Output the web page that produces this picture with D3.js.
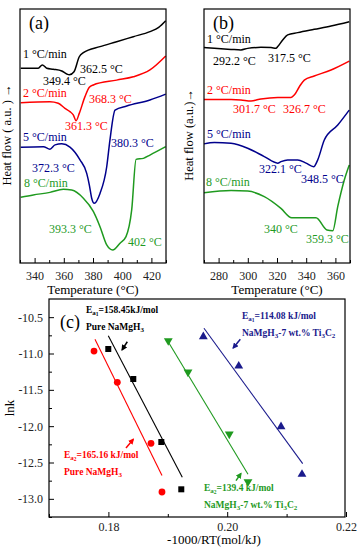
<!DOCTYPE html>
<html>
<head>
<meta charset="utf-8">
<script src="https://cdn.jsdelivr.net/npm/d3@7"></script>
<style>
  body { margin: 0; background: #fff; }
  svg, svg text { font-family: "Liberation Serif", "Times New Roman", Times, "DejaVu Serif", serif !important; }
  .axis text { font-size: 12px; fill: #222; }
  .axis path { display: none; }
  .axis line { stroke: #000; }
</style>
</head>
<body>
<div id="chart"></div>
<script>
// ---- data: DSC curves, [temperature (°C), heat flow (a.u.)]
const rates = ['1 °C/min', '2 °C/min', '5 °C/min', '8 °C/min']
const colors = ['#000000', '#ff0000', '#00008c', '#1f9a1f']
const serif = '"Liberation Serif", "Times New Roman", Times, "DejaVu Serif", serif'

const pureCurves = [
  [[330.5, 7.67], [342.5, 7.67], [345.3, 7.8], [348.3, 7.67], [352.8, 7.63], [358.6, 7.56], [362, 7.44], [363.8, 7.41], [367, 7.53], [370.6, 8.12], [373.4, 8.28], [384.8, 8.52], [396.2, 8.71], [407.6, 8.91], [419, 9.11], [425, 9.28], [429.8, 9.54]],
  [[330.5, 6.31], [350.5, 6.35], [356.2, 6.29], [360.8, 6.09], [364.2, 5.96], [366.5, 5.83], [368.4, 5.6], [370.6, 5.89], [374.5, 6.55], [377.5, 6.92], [380.2, 7.01], [396.2, 7.2], [407.6, 7.33], [419, 7.6], [429.8, 8.15]],
  [[330.5, 4.56], [346, 4.58], [350.5, 4.48], [354, 4.65], [358.6, 4.69], [364.2, 4.56], [371.1, 4.06], [375.7, 3.53], [377.5, 3.07], [379.1, 2.55], [380.9, 2.35], [384.8, 2.74], [389.4, 3.79], [391.6, 4.84], [395.1, 6.02], [403.1, 6.18], [419, 6.42], [429.8, 6.65]],
  [[330.5, 2.59], [339.1, 2.68], [350.5, 2.78], [359.7, 2.9], [365.4, 2.87], [373.4, 2.55], [380.2, 2.03], [384.8, 1.43], [389.4, 0.71], [393.5, 0.51], [398.5, 0.78], [402.6, 1.04], [406.5, 2.09], [409.5, 4.08], [414.5, 4.12], [419, 4.25], [429.8, 4.58]]
]

const dopedCurves = [
  [[270, 8.48], [277.1, 8.45], [288.5, 8.41], [295.3, 8.39], [299.9, 8.45], [309, 8.49], [315.9, 8.48], [319.3, 8.45], [320.5, 8.52], [323.9, 8.78], [327.3, 8.98], [334.2, 9.07], [345.5, 9.2], [357, 9.33], [369.5, 9.5]],
  [[270, 6.44], [288.5, 6.44], [295.3, 6.42], [302.2, 6.38], [309, 6.46], [320.5, 6.52], [329.6, 6.52], [331.8, 6.61], [335.3, 6.94], [338.7, 7.2], [345.5, 7.36], [357, 7.6], [369.5, 7.95]],
  [[270, 4.69], [277.1, 4.74], [288.5, 4.71], [299.9, 4.52], [311.3, 4.19], [320.5, 3.93], [322.7, 3.99], [327.3, 4.06], [334.2, 4.06], [339.9, 3.93], [345.1, 3.79], [347.9, 4.06], [352.4, 4.84], [361.6, 5.43], [369.5, 6.02]],
  [[270, 2.77], [288.5, 2.85], [299.9, 2.83], [311.3, 2.61], [322.7, 2.15], [330.1, 1.78], [346.7, 1.78], [354.2, 1.3], [358.2, 1.27], [361.6, 2.22], [366.1, 3.27], [369.5, 3.86]]
]

// peak labels: [text, x px, baseline px, colour index]
const pureLabels = [
  ['1 °C/min', 23, 58, 0], ['362.5 °C', 80, 73, 0], ['349.4 °C', 43, 85, 0],
  ['2 °C/min', 23, 97, 1], ['368.3 °C', 89, 103, 1], ['361.3 °C', 65, 130, 1],
  ['5 °C/min', 23, 141, 2], ['380.3 °C', 111, 147, 2], ['372.3 °C', 32, 172, 2],
  ['8 °C/min', 24, 187, 3], ['393.3 °C', 49, 233, 3], ['402 °C', 128, 246, 3]
]
const dopedLabels = [
  ['1 °C/min', 207, 43, 0], ['292.2 °C', 213, 65, 0], ['317.5 °C', 268, 62, 0],
  ['2 °C/min', 207, 94, 1], ['301.7 °C', 233, 113, 1], ['326.7 °C', 283, 113, 1],
  ['5 °C/min', 207, 138, 2], ['322.1 °C', 259, 173, 2], ['348.5 °C', 301, 183, 2],
  ['8 °C/min', 206, 186, 3], ['340 °C', 264, 233, 3], ['359.3 °C', 306, 243, 3]
]

// ---- Kissinger plot data
const kisPure1 = [[0.17998, -10.938], [0.18419, -11.351], [0.18891, -12.218], [0.19227, -12.869]]
const kisPure2 = [[0.17758, -10.966], [0.1815, -11.396], [0.18717, -12.236], [0.18902, -12.906]]
const kisDoped2 = [[0.19008, -10.824], [0.1934, -11.255], [0.20035, -12.108], [0.2035, -12.764]]
const kisDoped1 = [[0.19598, -10.769], [0.20194, -11.172], [0.20906, -12.007], [0.21259, -12.662]]

const fitPure1 = [[0.17998, -10.755], [0.19244, -12.703]]
const fitPure2 = [[0.17774, -10.805], [0.18902, -12.68]]
const fitDoped2 = [[0.18981, -10.805], [0.2035, -12.662]]
const fitDoped1 = [[0.19609, -10.653], [0.21271, -12.516]]

const arrows = [
  { from: [0.18318, -10.838], to: [0.1823, -10.95], color: '#000000' },
  { from: [0.18296, -12.30], to: [0.18420, -12.18], color: '#ff0000' },
  { from: [0.20221, -10.805], to: [0.20100, -10.925], color: '#1a1a8c' },
  { from: [0.20148, -12.75], to: [0.20232, -12.65], color: '#1f9a1f' }
]

const svg = d3
  .select('#chart')
  .append('svg')
  .attr('width', 362)
  .attr('height', 550)
  .style('font-family', serif)

svg.append('defs')
  .selectAll('marker')
  .data(arrows)
  .enter()
  .append('marker')
  .attr('id', (d, i) => `arr${i}`)
  .attr('viewBox', '0 0 10 10')
  .attr('refX', 8)
  .attr('refY', 5)
  .attr('markerWidth', 4)
  .attr('markerHeight', 4)
  .attr('orient', 'auto')
  .append('path')
  .attr('d', 'M0,0L10,5L0,10z')
  .attr('fill', d => d.color)

function dscPanel(x0, x1, domain, majors, minors, curves, labels, tag, ylabel, ylabelX) {
  const xScale = d3.scaleLinear().domain(domain).range([x0, x1])
  const yScale = d3.scaleLinear().domain([0, 10]).range([263, 9])
  const g = svg.append('g')

  const line = d3.line()
    .x(d => xScale(d[0]))
    .y(d => yScale(d[1]))
    .curve(d3.curveMonotoneX)

  g.selectAll('.curve')
    .data(curves)
    .enter()
    .append('path')
    .attr('class', 'curve')
    .attr('d', line)
    .attr('fill', 'none')
    .attr('stroke', (d, i) => colors[i])
    .attr('stroke-width', 1.5)

  g.append('rect')
    .attr('x', x0)
    .attr('y', 9)
    .attr('width', x1 - x0)
    .attr('height', 254)
    .attr('fill', 'none')
    .attr('stroke', '#000')
    .attr('stroke-width', 1.2)

  g.append('g')
    .attr('class', 'axis')
    .attr('transform', 'translate(0,263)')
    .call(d3.axisBottom(xScale).tickValues(majors).tickSize(-5).tickPadding(8))

  g.append('g')
    .attr('class', 'axis')
    .attr('transform', 'translate(0,263)')
    .call(d3.axisBottom(xScale).tickValues(minors).tickSize(-3).tickFormat(''))

  g.append('text')
    .attr('x', (x0 + x1) / 2)
    .attr('y', 294)
    .attr('text-anchor', 'middle')
    .attr('font-size', 13)
    .text('Temperature (°C)')

  g.append('text')
    .attr('transform', `translate(${ylabelX},135) rotate(-90)`)
    .attr('text-anchor', 'middle')
    .attr('font-size', 12.5)
    .text(ylabel)

  g.append('text')
    .attr('x', x0 + 9)
    .attr('y', 29)
    .attr('font-size', 18)
    .text(tag)

  g.selectAll('.lbl')
    .data(labels)
    .enter()
    .append('text')
    .attr('class', 'lbl')
    .attr('x', d => d[1])
    .attr('y', d => d[2])
    .attr('font-size', 12)
    .attr('fill', d => colors[d[3]])
    .text(d => d[0])
}

dscPanel(20, 166, [330, 430], [340, 360, 380, 400, 420], [330, 350, 370, 390, 410, 430],
  pureCurves, pureLabels, '(a)', 'Heat flow ( a.u. ) →', 11)
dscPanel(204, 350, [270, 370], [280, 300, 320, 340, 360], [270, 290, 310, 330, 350, 370],
  dopedCurves, dopedLabels, '(b)', 'Heat flow (a.u.)→', 193)

// ---- panel (c)
const xK = d3.scaleLinear().domain([0.17, 0.22]).range([49, 346])
const yK = d3.scaleLinear().domain([-13.25, -10.25]).range([517, 299])
const gc = svg.append('g')

gc.append('rect')
  .attr('x', 49)
  .attr('y', 299)
  .attr('width', 296)
  .attr('height', 218)
  .attr('fill', 'none')
  .attr('stroke', '#000')
  .attr('stroke-width', 1.2)

gc.append('g')
  .attr('class', 'axis')
  .attr('transform', 'translate(49,0)')
  .call(d3.axisLeft(yK).tickValues([-10.5, -11, -11.5, -12, -12.5, -13]).tickSize(-5).tickPadding(6).tickFormat(d3.format('.1f')))
  .selectAll('text').text(d => d3.format('.1f')(d).replace('−', '-'))

gc.append('g')
  .attr('class', 'axis')
  .attr('transform', 'translate(49,0)')
  .call(d3.axisLeft(yK).tickValues([-10.75, -11.25, -11.75, -12.25, -12.75, -13.25]).tickSize(-3).tickFormat(''))

gc.append('g')
  .attr('class', 'axis')
  .attr('transform', 'translate(0,517)')
  .call(d3.axisBottom(xK).tickValues([0.18, 0.2, 0.22]).tickSize(-5).tickPadding(5).tickFormat(d3.format('.2f')))

gc.append('g')
  .attr('class', 'axis')
  .attr('transform', 'translate(0,517)')
  .call(d3.axisBottom(xK).tickValues([0.17, 0.19, 0.21]).tickSize(-3).tickFormat(''))

gc.append('text')
  .attr('x', 214)
  .attr('y', 544)
  .attr('text-anchor', 'middle')
  .attr('font-size', 13)
  .text('-1000/RT(mol/kJ)')

gc.append('text')
  .attr('transform', 'translate(14,408) rotate(-90)')
  .attr('text-anchor', 'middle')
  .attr('font-size', 13)
  .text('lnk')

gc.append('text')
  .attr('x', 60)
  .attr('y', 328)
  .attr('font-size', 18)
  .text('(c)')

const fitLine = d3.line().x(d => xK(d[0])).y(d => yK(d[1]))
const fits = [
  [fitPure1, '#000000'], [fitPure2, '#ff0000'], [fitDoped2, '#1f9a1f'], [fitDoped1, '#1a1a8c']
]
gc.selectAll('.fit')
  .data(fits)
  .enter()
  .append('path')
  .attr('class', 'fit')
  .attr('d', d => fitLine(d[0]))
  .attr('stroke', d => d[1])
  .attr('stroke-width', 1.1)
  .attr('fill', 'none')

gc.selectAll('.sq')
  .data(kisPure1)
  .enter()
  .append('rect')
  .attr('x', d => xK(d[0]) - 3)
  .attr('y', d => yK(d[1]) - 3)
  .attr('width', 6)
  .attr('height', 6)
  .attr('fill', '#000')

gc.selectAll('.ci')
  .data(kisPure2)
  .enter()
  .append('circle')
  .attr('cx', d => xK(d[0]))
  .attr('cy', d => yK(d[1]))
  .attr('r', 3.4)
  .attr('fill', '#ff0000')

const tri = d3.symbol().type(d3.symbolTriangle).size(34)
gc.selectAll('.tu')
  .data(kisDoped1)
  .enter()
  .append('path')
  .attr('d', tri)
  .attr('transform', d => `translate(${xK(d[0])},${yK(d[1])})`)
  .attr('fill', '#1a1a8c')

gc.selectAll('.td')
  .data(kisDoped2)
  .enter()
  .append('path')
  .attr('d', tri)
  .attr('transform', d => `translate(${xK(d[0])},${yK(d[1])}) rotate(180)`)
  .attr('fill', '#1f9a1f')

gc.selectAll('.arr')
  .data(arrows)
  .enter()
  .append('line')
  .attr('x1', d => xK(d.from[0]))
  .attr('y1', d => yK(d.from[1]))
  .attr('x2', d => xK(d.to[0]))
  .attr('y2', d => yK(d.to[1]))
  .attr('stroke', d => d.color)
  .attr('stroke-width', 1.5)
  .attr('marker-end', (d, i) => `url(#arr${i})`)

// energy annotations
function ea(x, y, color, sub, value, sample) {
  const t1 = gc.append('text')
    .attr('x', x)
    .attr('y', y)
    .attr('font-size', 9.5)
    .attr('font-weight', 'bold')
    .attr('fill', color)
  t1.append('tspan').text('E')
  t1.append('tspan').attr('font-size', 7).attr('dy', 2).text('a')
  t1.append('tspan').attr('font-size', 5.5).attr('dy', 1).text(sub)
  t1.append('tspan').attr('dy', -3).text(value)

  const t2 = gc.append('text')
    .attr('x', x)
    .attr('y', y + 16.5)
    .attr('font-size', 9.5)
    .attr('font-weight', 'bold')
    .attr('fill', color)
  if (sample === 'pure') {
    t2.append('tspan').text('Pure NaMgH')
    t2.append('tspan').attr('font-size', 7).attr('dy', 2.5).text('3')
  } else {
    t2.append('tspan').text('NaMgH')
    t2.append('tspan').attr('font-size', 7).attr('dy', 2.5).text('3')
    t2.append('tspan').attr('dy', -2.5).text('-7 wt.% Ti')
    t2.append('tspan').attr('font-size', 7).attr('dy', 2.5).text('3')
    t2.append('tspan').attr('dy', -2.5).text('C')
    t2.append('tspan').attr('font-size', 7).attr('dy', 2.5).text('2')
  }
}

ea(86, 313, '#000000', '1', '=158.45kJ/mol', 'pure')
ea(64, 458, '#ff0000', '2', '=165.16 kJ/mol', 'pure')
ea(242, 319, '#1a1a8c', '1', '=114.08 kJ/mol', 'doped')
ea(204, 491, '#1f9a1f', '2', '=139.4 kJ/mol', 'doped')
</script>
</body>
</html>
